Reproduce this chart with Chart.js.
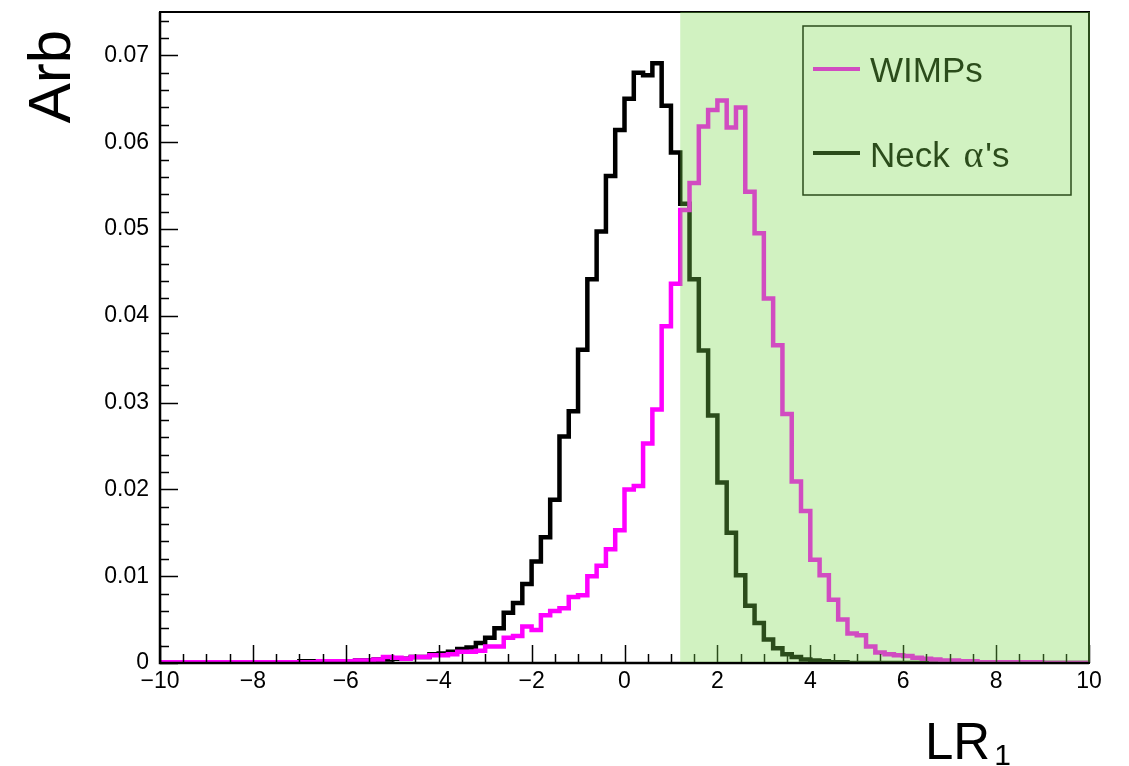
<!DOCTYPE html>
<html>
<head>
<meta charset="utf-8">
<script src="https://cdn.jsdelivr.net/npm/chart.js@4.4.0/dist/chart.umd.min.js"></script>
<style>
html,body{margin:0;background:#fff}
canvas{display:block}
</style>
</head>
<body>
<canvas id="c" width="1129" height="766"></canvas>
<script>
// histogram binning: 100 bins of 0.2 from -10 to 10
const xMin=-10, xMax=10, binWidth=0.2;
const yMax=0.075;
const cutLow=1.2; // start of the shaded signal region

const seriesNames=["WIMPs","Neck \u03b1's"];
const seriesColors=["#ff00ff","#000000"];

const wimps=[
  0.0001,0.0001,0.0001,0.0001,0.0001, 0.0001,0.0001,0.0001,0.0001,0.0001,
  0.0001,0.0001,0.0001,0.0001,0.0001, 0.0001,0.0001,0.0002,0.0002,0.0002,
  0.0002,0.0003,0.0003,0.0004,0.0007, 0.0006,0.0005,0.0007,0.0007,0.0009,
  0.0009,0.0010,0.0013,0.0013,0.0014, 0.0019,0.0019,0.0029,0.0031,0.0042,
  0.0038,0.0055,0.0060,0.0063,0.0076, 0.0078,0.0100,0.0112,0.0131,0.0153,
  0.0200,0.0204,0.0253,0.0292,0.0388, 0.0437,0.0522,0.0553,0.0618,0.0637,
  0.0648,0.0617,0.0640,0.0543,0.0495, 0.0420,0.0366,0.0287,0.0209,0.0175,
  0.0119,0.0101,0.0073,0.0050,0.0034, 0.0032,0.0019,0.0012,0.0010,0.0009,
  0.0008,0.0006,0.0005,0.0004,0.0003, 0.0003,0.0002,0.0002,0.0001,0.0001,
  0.0001,0.0001,0.0001,0.0001,0.0001, 0,0,0,0,0
];
const neckAlphas=[
  0,0,0,0,0, 0.0001,0.0001,0.0001,0.0001,0.0001,
  0.0001,0.0001,0.0001,0.0001,0.0001, 0.0002,0.0002,0.0002,0.0002,0.0002,
  0.0002,0.0003,0.0003,0.0004,0.0004, 0.0005,0.0005,0.0007,0.0007,0.0010,
  0.0011,0.0013,0.0016,0.0018,0.0023, 0.0029,0.0040,0.0058,0.0069,0.0091,
  0.0117,0.0145,0.0188,0.0261,0.0290, 0.0361,0.0442,0.0497,0.0561,0.0614,
  0.0650,0.0680,0.0677,0.0691,0.0642, 0.0588,0.0529,0.0442,0.0360,0.0285,
  0.0208,0.0150,0.0101,0.0066,0.0046, 0.0027,0.0017,0.0010,0.0007,0.0004,
  0.0003,0.0002,0.0001,0.0001,0, 0,0,0,0,0,
  0,0,0,0,0, 0,0,0,0,0,
  0,0,0,0,0, 0,0,0,0,0
];

const xTickLabels=[-10,-8,-6,-4,-2,0,2,4,6,8,10];
const yTickLabels=[0,0.01,0.02,0.03,0.04,0.05,0.06,0.07];
const xTitle="LR", xTitleSub="1", yTitle="Arb";

// left bin edges, plus the closing edge at xMax
function steps(vals){
  const pts=vals.map((v,i)=>({x:xMin+i*binWidth,y:v}));
  pts.push({x:xMax,y:vals[vals.length-1]});
  return pts;
}

const FONT="'Liberation Sans', Arial, Helvetica, sans-serif";

const frame={
  id:"frame",
  afterDatasetsDraw(chart){
    const {ctx,chartArea:a,scales:{x,y}}=chart;
    ctx.save();
    ctx.strokeStyle="#000";
    ctx.lineWidth=1.5;
    // inward ticks, major + minor
    ctx.beginPath();
    for(let i=0;i<=40;i++){
      const v=xMin+i*0.5, px=Math.round(x.getPixelForValue(v))+0.5;
      const len=(i%4===0)?18:9;
      ctx.moveTo(px,a.bottom);ctx.lineTo(px,a.bottom-len);
    }
    for(let i=0;i*0.002<=yMax+1e-9;i++){
      const py=Math.round(y.getPixelForValue(i*0.002))+0.5;
      const len=(i%5===0)?18:9;
      ctx.moveTo(a.left,py);ctx.lineTo(a.left+len,py);
    }
    ctx.stroke();
    ctx.lineWidth=2;
    ctx.strokeRect(a.left,a.top,a.right-a.left,a.bottom-a.top);
    // axes a little heavier than the rest of the frame
    ctx.lineWidth=2.5;
    ctx.beginPath();
    ctx.moveTo(a.left,a.top);ctx.lineTo(a.left,a.bottom);ctx.lineTo(a.right,a.bottom);
    ctx.stroke();

    // legend box
    const lg={l:803,t:26,r:1071,b:195};
    ctx.fillStyle="#fff";
    ctx.fillRect(lg.l,lg.t,lg.r-lg.l,lg.b-lg.t);
    ctx.lineWidth=1.5;
    ctx.strokeRect(lg.l,lg.t,lg.r-lg.l,lg.b-lg.t);
    const rows=[{cy:69,base:82},{cy:153,base:167}];
    chart.data.datasets.forEach((ds,i)=>{
      const r=rows[i];
      ctx.strokeStyle=ds.borderColor;
      ctx.lineWidth=4;
      ctx.beginPath();ctx.moveTo(813,r.cy);ctx.lineTo(860,r.cy);ctx.stroke();
      ctx.fillStyle="#000";
      ctx.textBaseline="alphabetic";
      ctx.textAlign="left";
      let tx=870;
      for(const ch of ds.label){
        const greek=/[\u0370-\u03ff]/.test(ch);
        ctx.font=greek?"38px 'Liberation Serif', serif":"35px "+FONT;
        if(greek) tx+=4;
        ctx.fillText(ch,tx,r.base);
        tx+=ctx.measureText(ch).width+(greek?2:0);
      }
    });
    ctx.restore();
  },
  afterDraw(chart){
    const {ctx,chartArea:a,scales:{x}}=chart;
    ctx.save();
    // shaded region drawn over everything inside the frame
    const x0=x.getPixelForValue(cutLow);
    ctx.fillStyle="rgba(123,218,78,0.35)";
    ctx.fillRect(x0,a.top,a.right+1-x0,a.bottom-1-a.top);

    // axis titles
    ctx.fillStyle="#000";
    ctx.font="60px "+FONT;
    ctx.textBaseline="alphabetic";
    ctx.translate(70,30);
    ctx.rotate(-Math.PI/2);
    ctx.textAlign="right";
    ctx.fillText(yTitle,0,0);
    ctx.setTransform(1,0,0,1,0,0);
    ctx.textAlign="left";
    ctx.font="51px "+FONT;
    ctx.fillText(xTitle,925,759);
    const w=ctx.measureText(xTitle).width;
    ctx.font="30px "+FONT;
    ctx.fillText(xTitleSub,925+w+4,765);
    ctx.restore();
  }
};

new Chart(document.getElementById("c"),{
  type:"line",
  data:{
    datasets:[
      {label:seriesNames[0],data:steps(wimps),borderColor:seriesColors[0]},
      {label:seriesNames[1],data:steps(neckAlphas),borderColor:seriesColors[1]}
    ]
  },
  options:{
    responsive:false,
    animation:false,
    devicePixelRatio:1,
    layout:{padding:{left:0,right:40,top:12,bottom:0}},
    elements:{
      line:{stepped:"before",borderWidth:4.5,fill:false,tension:0,borderJoinStyle:"miter",borderCapStyle:"butt"},
      point:{radius:0,hoverRadius:0}
    },
    plugins:{legend:{display:false},tooltip:{enabled:false}},
    scales:{
      x:{
        type:"linear",min:xMin,max:xMax,
        grid:{display:false},border:{display:false},
        afterFit(s){s.height=103;s.paddingLeft=0;s.paddingRight=0;},
        afterBuildTicks(s){s.ticks=xTickLabels.map(v=>({value:v}));},
        ticks:{
          padding:-3,color:"#000",font:{family:FONT,size:23},maxRotation:0,autoSkip:false,
          callback:v=>(v<0?"\u2212":"")+Math.abs(v)
        }
      },
      y:{
        type:"linear",min:0,max:yMax,
        grid:{display:false},border:{display:false},
        afterFit(s){s.width=160;s.paddingTop=0;s.paddingBottom=0;},
        afterBuildTicks(s){s.ticks=yTickLabels.map(v=>({value:v}));},
        ticks:{
          padding:3,color:"#000",font:{family:FONT,size:23},autoSkip:false,
          callback:v=>v===0?"0":v.toFixed(2)
        }
      }
    }
  },
  plugins:[frame]
});
</script>
</body>
</html>
